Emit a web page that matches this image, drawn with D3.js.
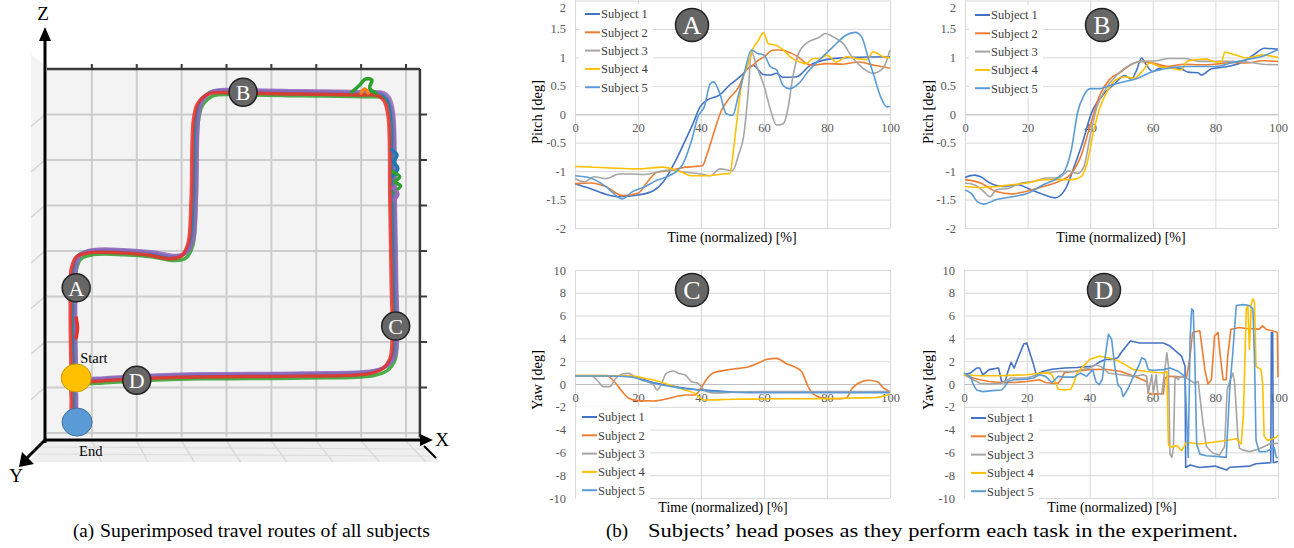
<!DOCTYPE html>
<html lang="en">
<head>
<meta charset="UTF-8">
<title>Travel routes and head poses</title>
<script src="https://d3js.org/d3.v7.min.js"></script>
<style>
  body { margin: 0; background: #fff; }
  text { font-family: "Liberation Serif", "Times New Roman", serif; }
</style>
</head>
<body>
<svg width="1294" height="548" id="grafico"></svg>
<script>
// ---------- data ----------
var subjects = ["Subject 1", "Subject 2", "Subject 3", "Subject 4", "Subject 5"];
var timeTicks = [0, 20, 40, 60, 80, 100];
var pitchTicks = [2, 1.5, 1, 0.5, 0, -0.5, -1, -1.5, -2];
var yawTicks = [10, 8, 6, 4, 2, 0, -2, -4, -6, -8, -10];

// task A pitch [time %, deg]
var pitchA1 = [[0,-1.22],[5,-1.31],[10,-1.41],[14,-1.45],[20,-1.42],[25,-1.34],[28,-1.19],[32,-0.81],[35,-0.46],[37.5,-0.16],[39.7,0.13],[42,0.25],[46,0.34],[49,0.51],[52.4,0.66],[56.6,0.86],[59.8,0.7],[62,0.69],[64,0.72],[66,0.65],[70.4,0.66],[74.6,0.86],[78.8,0.95],[84,0.99],[88,1.0],[100,1.01]];
var pitchA2 = [[0,-1.22],[5,-1.21],[10,-1.28],[15,-1.43],[20,-1.39],[23,-1.19],[26,-1.02],[30,-0.99],[35,-0.93],[38,-0.92],[40.5,-0.9],[42,-0.69],[44,-0.34],[46.5,0.07],[49,0.28],[52,0.48],[54,0.75],[56,0.84],[58,0.94],[60,1.01],[63,1.13],[65,1.13],[68.8,1.07],[70.8,1.01],[73.5,0.89],[75,0.86],[80,0.89],[85,0.88],[90,0.92],[95,0.86],[100,0.81]];
var pitchA3 = [[0,-1.13],[3,-1.19],[6,-1.1],[10,-1.13],[14,-1.05],[18,-1.05],[22,-1.06],[26,-1.02],[30,-0.98],[35,-1.02],[40,-1.05],[43,-1.08],[46,-0.96],[50,-0.99],[52,-0.7],[53.5,-0.4],[55,0.4],[56,1.1],[57.7,0.84],[60,0.5],[62,0.09],[64,-0.19],[66,-0.17],[67.7,0.13],[68.8,0.54],[71,1.07],[73.5,1.25],[77.8,1.36],[79.4,1.42],[82,1.36],[85,1.25],[88.3,0.98],[91.4,0.81],[94.6,0.72],[97.8,0.81],[100,1.13]];
var pitchA4 = [[0,-0.92],[10,-0.94],[20,-0.96],[28,-0.93],[33,-1.0],[37,-1.08],[42,-1.08],[47,-1.05],[49.2,-1.04],[50.3,-0.63],[51.3,-0.16],[52.9,0.54],[55,0.89],[56.6,1.16],[58.2,1.3],[59.8,1.43],[61.4,1.24],[64,1.21],[66.1,1.13],[68.3,1.01],[71.4,0.92],[73.5,0.89],[75.6,0.98],[77.8,0.98],[79.9,1.04],[83,0.92],[86.2,1.01],[89.4,0.98],[92.6,0.96],[94.7,1.1],[97.9,1.01],[100,0.99]];
var pitchA5 = [[0,-1.08],[5,-1.12],[10,-1.28],[15,-1.49],[18,-1.37],[22,-1.28],[26,-1.16],[30,-1.08],[34,-0.9],[37,-0.46],[39,-0.05],[41,0.13],[43,0.54],[44,0.57],[46,0.36],[48,0.01],[50,-0.02],[52,0.36],[54,0.78],[56,1.13],[58,1.07],[60,1.04],[62,0.84],[64,0.78],[66,0.51],[68,0.45],[71,0.54],[74,0.75],[78,0.98],[82,1.19],[86,1.39],[89,1.44],[91,1.36],[93,1.01],[95,0.66],[97,0.31],[99,0.13],[100,0.14]];

// task B pitch
var pitchB1 = [[0,-1.11],[3,-1.07],[5,-1.1],[8,-1.21],[12,-1.27],[17,-1.24],[20,-1.3],[24,-1.39],[28.7,-1.47],[32,-1.32],[35,-0.9],[37.2,-0.56],[40.4,0.02],[44.7,0.38],[47.3,0.51],[51,0.68],[53.2,0.62],[54.8,0.77],[56.4,0.99],[58,0.86],[60,0.75],[61.7,0.8],[65,0.83],[69,0.8],[71.3,0.74],[74.5,0.73],[75.5,0.69],[78.7,0.8],[83,0.83],[88.3,0.91],[92.6,1.06],[95.7,1.16],[100,1.14]];
var pitchB2 = [[0,-1.15],[5,-1.21],[10,-1.36],[15,-1.4],[20,-1.35],[25,-1.27],[30,-1.18],[34,-1.04],[37,-0.74],[40,-0.2],[43,0.33],[46,0.6],[50,0.75],[53,0.87],[56,0.93],[60,0.9],[65,0.84],[70,0.88],[75,0.87],[80,0.88],[85,0.91],[90,0.9],[95,0.94],[100,0.93]];
var pitchB3 = [[0,-1.21],[3,-1.24],[6,-1.36],[8,-1.45],[10,-1.33],[14,-1.3],[18,-1.21],[22,-1.18],[26,-1.12],[30,-1.12],[33,-1.0],[36,-1.04],[38,-0.92],[40,-0.38],[42,0.1],[45,0.45],[48,0.66],[51,0.81],[54,0.9],[57,0.93],[61,0.94],[65,0.98],[70,0.98],[75,0.93],[80,0.93],[85,0.93],[90,0.92],[95,0.88],[100,0.87]];
var pitchB4 = [[0,-1.27],[5,-1.29],[10,-1.27],[15,-1.24],[20,-1.21],[25,-1.15],[30,-1.15],[34,-1.15],[37,-1.1],[39,-0.86],[41,-0.32],[43,0.1],[45,0.36],[48,0.6],[51,0.66],[54,0.63],[57,0.78],[59,0.9],[62,0.84],[66,0.81],[69,0.78],[71,0.93],[74,0.96],[77,0.97],[80,0.92],[82,0.93],[83,1.09],[86,1.05],[90,0.99],[95,1.04],[100,1.0]];
var pitchB5 = [[0,-1.33],[2,-1.39],[4,-1.54],[6,-1.58],[10,-1.5],[15,-1.45],[20,-1.39],[25,-1.24],[30,-1.1],[32,-0.98],[34,-0.62],[36,0.04],[38,0.33],[40,0.45],[43,0.45],[46,0.5],[50,0.56],[55,0.63],[60,0.75],[65,0.81],[70,0.84],[75,0.84],[80,0.84],[85,0.9],[90,0.96],[95,1.02],[100,1.14]];

// task C yaw
var yawC1 = [[0,0.72],[10,0.72],[18,0.66],[22,0.36],[26,0.07],[30,-0.13],[35,-0.37],[40,-0.51],[45,-0.6],[50,-0.7],[55,-0.74],[100,-0.74]];
var yawC2 = [[0,0.75],[10,0.75],[12,0.35],[15,-0.67],[17,-1.25],[20,-1.46],[25,-1.49],[30,-1.25],[35,-0.96],[38,-0.96],[40,-0.37],[42,0.5],[44,0.99],[48,1.22],[52,1.37],[55,1.5],[58,1.82],[61,2.17],[64,2.25],[67,1.8],[70,1.46],[72,1.08],[74,-0.23],[76,-0.96],[79,-1.25],[83,-1.3],[86,-1.25],[88,-0.37],[90,0.07],[93,0.33],[96,0.2],[98,-0.37],[100,-0.67]];
var yawC3 = [[0,0.72],[5,0.72],[7,0.35],[9,-0.23],[11,-0.23],[13,0.5],[15,0.87],[17,0.93],[19,0.64],[21,0.35],[23,0.2],[25,-0.09],[26,-0.53],[27,-0.23],[29,0.93],[31,1.14],[33,0.93],[35,0.79],[37,0.2],[39,0.07],[41,-0.53],[43,-0.76],[45,-0.8],[50,-0.72],[60,-0.67],[100,-0.67]];
var yawC4 = [[0,0.72],[10,0.72],[18,0.7],[22,0.5],[25,0.35],[30,-0.09],[35,-0.53],[38,-0.8],[41,-1.4],[50,-1.34],[60,-1.32],[70,-1.3],[80,-1.28],[90,-1.22],[95,-1.2],[100,-0.9]];
var yawC5 = [[0,0.7],[10,0.7],[18,0.62],[22,0.3],[26,0.0],[30,-0.2],[35,-0.42],[40,-0.55],[45,-0.66],[50,-0.72],[55,-0.75],[100,-0.75]];

// task D yaw
var yawD1 = [[0,0.81],[2,0.96],[4,1.4],[5,1.4],[6,0.8],[8,1.26],[11,1.4],[12,0.2],[13,0.1],[14,1.1],[15,1.9],[16,1.4],[17,2.15],[19,3.5],[20,3.6],[21,2.7],[22,1.85],[23,0.8],[25,1.1],[28,1.3],[32,1.4],[36,1.45],[38,1.5],[41,1.55],[43,1.9],[45,2.15],[47,2.15],[49,2.3],[50,2.74],[53,3.78],[56,3.6],[63.5,3.6],[65.6,3.33],[69.3,2.44],[70.4,1.55],[70.6,-7.33],[72,-7.1],[75,-7.33],[80,-7.2],[83.6,-7.55],[84.7,-7.3],[91,-7.2],[93,-7.0],[97.7,-6.9],[97.9,4.5],[98.3,4.5],[98.5,-6.9],[100,-6.8]];
var yawD2 = [[0,0.81],[3,0.52],[5,0.37],[8,0.22],[12,0.13],[16,0.13],[20,0.22],[24,0.37],[26,0.13],[28,0.07],[30,0.07],[31,0.43],[32,1.0],[35,1.1],[40,1.26],[45,1.3],[50,1.1],[55,0.6],[58.2,0.22],[58.7,-0.81],[60.3,-0.87],[63.5,-0.87],[64,0.52],[65.6,0.67],[70.9,0.6],[72,2.44],[72.8,4.52],[75.1,4.67],[75.6,3.63],[76.7,1.26],[77.7,0.0],[78.8,0.37],[79.8,4.22],[80.9,4.52],[81.4,3.04],[82.5,0.37],[83.5,0.37],[84,2.44],[85,4.81],[87.7,4.96],[89.8,4.87],[94,4.81],[95.1,5.1],[96.2,4.81],[99.4,4.57],[99.8,4.5],[100,0.6]];
var yawD3 = [[0,0.81],[3,0.37],[5,0.07],[8,-0.01],[12,0.07],[15,0.52],[20,0.52],[25,0.96],[30,1.1],[35,1.1],[40,1.4],[42,1.7],[44,1.48],[46,0.96],[50,0.81],[54,0.67],[57.2,0.81],[58.2,0.67],[58.7,-0.81],[59.8,0.81],[60.3,-0.81],[61.2,0.81],[61.7,-0.81],[63,-0.87],[64.6,2.74],[65.1,1.55],[65.6,-6.15],[66.2,-6.44],[66.7,-5.55],[67.2,0.67],[68.2,0.37],[68.8,0.67],[70.9,0.52],[73.5,0.07],[74.6,0.22],[75.1,-1.05],[76.1,-3.41],[77.2,-5.48],[79.3,-6.07],[81.4,-6.22],[83,-5.48],[83.8,-0.52],[84.6,0.22],[85.6,0.96],[86.2,0.07],[87.2,-4.59],[87.7,-5.63],[88.8,-5.78],[90.9,-5.93],[93,-5.78],[95.1,-5.55],[97.3,-5.26],[100,-5.2]];
var yawD4 = [[0,0.81],[5,0.73],[10,0.73],[15,0.76],[20,0.81],[25,0.96],[27,1.0],[28,0.81],[29,0.22],[30,-0.46],[32,-0.52],[34,-0.46],[35,0.07],[36,0.96],[38,1.55],[40,2.15],[43,2.44],[45,2.35],[48,2.15],[50,1.9],[54,1.26],[58.2,1.1],[63.5,0.96],[64.6,1.1],[65.1,-5.26],[65.6,-5.55],[67.8,-5.4],[69.3,-5.85],[70.9,-5.11],[75.1,-5.26],[79.3,-5.11],[83.5,-4.96],[86.7,-4.81],[88.3,-5.26],[89,-2.6],[89.9,6.59],[90.4,6.89],[90.9,3.04],[91.5,7.04],[92,7.48],[92.5,7.19],[93,1.55],[94.6,1.26],[95.1,0.07],[95.6,-4.59],[96.7,-4.96],[98.3,-4.81],[99.4,-4.67],[100,-4.5]];
var yawD5 = [[0,0.96],[2,0.67],[3,-0.07],[4,-0.52],[6,-0.67],[9,-0.58],[12,-0.52],[13,-0.22],[14,0.22],[16,0.37],[20,0.43],[22,0.52],[24,0.81],[26,0.67],[28,0.13],[30,0.67],[32,0.6],[35,0.6],[37,0.96],[39,0.67],[41,1.26],[42,0.22],[43,-0.07],[44,0.37],[45,2.44],[46,4.37],[47,3.93],[48,1.56],[49,-0.07],[50,-0.37],[50.7,-1.11],[52.3,-0.37],[54,0.67],[55.6,1.56],[56.6,2.3],[57.7,2.15],[58.7,1.26],[60.3,1.2],[63.5,1.26],[65.6,1.41],[68.2,1.11],[70.4,0.67],[71.4,-6.44],[72,3.93],[72.5,6.59],[73,6.44],[73.5,2.44],[74.1,-5.26],[75.1,-6.15],[77.2,-6.3],[81.4,-6.37],[83.5,-6.44],[84.6,-0.52],[85.6,2.74],[86.7,6.89],[88.8,6.96],[90.9,6.89],[92,6.59],[92.5,2.44],[93,-4.96],[94,-5.93],[96.2,-5.93],[97.8,-5.7],[98.8,-5.6],[99.4,-6.4],[100,-6.5]];

// travel route on the X-Z grid (grid units), shared by all subjects
var route = [[0.58,1.16],[0.56,2.26],[0.56,3.14],[0.58,3.63],[0.69,3.89],[0.96,3.98],[1.63,3.98],[2.29,3.93],[2.78,3.85],[3.03,3.91],[3.18,4.18],[3.25,5.12],[3.30,6.88],[3.39,7.25],[3.63,7.47],[4.30,7.49],[5.63,7.47],[6.97,7.45],[7.42,7.43],[7.55,7.32],[7.64,6.99],[7.68,5.12],[7.71,3.36],[7.73,2.04],[7.68,1.65],[7.51,1.43],[7.19,1.32],[5.63,1.27],[3.41,1.25],[2.07,1.21],[1.18,1.16],[0.73,1.14],[0.6,1.15],[0.58,0.7],[0.58,0.3]];
var routeColors = ["#ff7f0e", "#2ca02c", "#1f77b4", "#9467bd", "#e5302e"];
var routeShift = [[0.0, 0.0], [0.07, -0.06], [0.03, 0.03], [0.08, 0.05], [-0.04, -0.02]];
// small detours of single subjects
var detours = [
  { c: 1, pts: [[6.79,7.49],[6.97,7.65],[7.10,7.78],[7.24,7.76],[7.19,7.58],[7.33,7.47]] },
  { c: 0, pts: [[7.0,7.47],[7.08,7.56],[7.16,7.47]] },
  { c: 2, pts: [[7.68,6.22],[7.80,6.11],[7.73,5.96],[7.82,5.82],[7.71,5.65]] },
  { c: 1, pts: [[7.71,5.74],[7.86,5.63],[7.76,5.52],[7.88,5.43],[7.73,5.30]] },
  { c: 3, pts: [[7.71,5.38],[7.82,5.25],[7.73,5.12]] },
  { c: 4, pts: [[0.65,2.53],[0.68,2.31],[0.65,2.09]] }
];
var waypoints = [["A", 0.65, 3.19], ["B", 4.37, 7.49], ["C", 7.77, 2.35], ["D", 2.0, 1.16]];
var startPt = [0.65, 1.21], endPt = [0.67, 0.24];

var svg = d3.select("svg");
var colors = ["#4472c4", "#ed7d31", "#a5a5a5", "#ffc000", "#5b9bd5"];

svg.append("rect").attr("width", 1294).attr("height", 548).attr("fill", "#fff");

// ---------- (a) 3D route view ----------
var gx = d3.scaleLinear().domain([0, 8]).range([47, 406]);
var gy = d3.scaleLinear().domain([0, 8]).range([433, 69]);
var g3 = svg.append("g");

// left wall and floor (perspective)
g3.append("polygon").attr("points", "31,54 45,66 45,438 31,452").attr("fill", "#f4f4f4");
g3.append("polygon").attr("points", "45,440 424,440 440,462 30,462").attr("fill", "#efefef");
g3.selectAll(".wall").data(d3.range(1, 8)).enter().append("line")
  .attr("x1", 31).attr("x2", 45)
  .attr("y1", function (d) { return gy(d) + 12; }).attr("y2", function (d) { return gy(d); })
  .attr("stroke", "#d4d4d4").attr("stroke-width", 1.5);
g3.selectAll(".floor").data(d3.range(1, 9)).enter().append("line")
  .attr("x1", function (d) { return gx(d); }).attr("x2", function (d) { return gx(d) + 8 + d * 1.5; })
  .attr("y1", 441).attr("y2", 462)
  .attr("stroke", "#dadada").attr("stroke-width", 1.5);
[447, 454].forEach(function (yy) {
  g3.append("line").attr("x1", 38).attr("x2", 430).attr("y1", yy).attr("y2", yy + 2)
    .attr("stroke", "#dcdcdc").attr("stroke-width", 1.2);
});

// back wall
g3.append("rect").attr("x", gx(0)).attr("y", gy(8))
  .attr("width", gx(8.31) - gx(0)).attr("height", gy(-0.1) - gy(8))
  .attr("fill", "#f3f3f3");
g3.selectAll(".gv").data(d3.range(1, 9)).enter().append("line")
  .attr("x1", function (d) { return gx(d); }).attr("x2", function (d) { return gx(d); })
  .attr("y1", gy(8)).attr("y2", gy(-0.1))
  .attr("stroke", "#cdcdcd").attr("stroke-width", 2);
g3.selectAll(".gh").data(d3.range(0, 8)).enter().append("line")
  .attr("x1", gx(0)).attr("x2", gx(8.31))
  .attr("y1", function (d) { return gy(d); }).attr("y2", function (d) { return gy(d); })
  .attr("stroke", "#cdcdcd").attr("stroke-width", 2);

// frame with ticks
g3.append("line").attr("x1", gx(0)).attr("x2", gx(8.31)).attr("y1", gy(8)).attr("y2", gy(8))
  .attr("stroke", "#3a3a3a").attr("stroke-width", 2.5);
g3.append("line").attr("x1", gx(8.31)).attr("x2", gx(8.31)).attr("y1", gy(8)).attr("y2", gy(-0.1))
  .attr("stroke", "#3a3a3a").attr("stroke-width", 2.5);
g3.selectAll(".tt").data(d3.range(1, 9)).enter().append("line")
  .attr("x1", function (d) { return gx(d); }).attr("x2", function (d) { return gx(d); })
  .attr("y1", gy(8)).attr("y2", gy(8) - 5)
  .attr("stroke", "#3a3a3a").attr("stroke-width", 2);
g3.selectAll(".rt").data(d3.range(1, 8)).enter().append("line")
  .attr("x1", gx(8.31)).attr("x2", gx(8.31) + 7)
  .attr("y1", function (d) { return gy(d); }).attr("y2", function (d) { return gy(d); })
  .attr("stroke", "#3a3a3a").attr("stroke-width", 2);

// routes
var rline = d3.line()
  .x(function (d) { return gx(d[0]); })
  .y(function (d) { return gy(d[1]); })
  .curve(d3.curveCatmullRom.alpha(0.5));
routeColors.forEach(function (c, i) {
  var s = routeShift[i];
  g3.append("path")
    .datum(route.map(function (p) { return [p[0] + s[0], p[1] + s[1]]; }))
    .attr("d", rline).attr("fill", "none")
    .attr("stroke", c).attr("stroke-width", 3.5).attr("stroke-opacity", 0.85)
    .attr("stroke-linejoin", "round").attr("stroke-linecap", "round");
});
detours.forEach(function (dt) {
  g3.append("path").datum(dt.pts).attr("d", rline).attr("fill", "none")
    .attr("stroke", routeColors[dt.c]).attr("stroke-width", 3.5)
    .attr("stroke-linecap", "round").attr("stroke-linejoin", "round");
});

// axes Z, X, Y
g3.append("line").attr("x1", 45).attr("x2", 45).attr("y1", 443).attr("y2", 38)
  .attr("stroke", "#000").attr("stroke-width", 3);
g3.append("polygon").attr("points", "45,27 39,41 51,41").attr("fill", "#000");
g3.append("line").attr("x1", 44).attr("x2", 423).attr("y1", 440).attr("y2", 440)
  .attr("stroke", "#000").attr("stroke-width", 3);
g3.append("polygon").attr("points", "433,440 420,434 420,446").attr("fill", "#000");
g3.append("line").attr("x1", 424).attr("x2", 436).attr("y1", 446).attr("y2", 458)
  .attr("stroke", "#000").attr("stroke-width", 2);
g3.append("line").attr("x1", 45).attr("x2", 26).attr("y1", 440).attr("y2", 459)
  .attr("stroke", "#000").attr("stroke-width", 3);
g3.append("polygon").attr("points", "19,467 22,452 34,464").attr("fill", "#000");
g3.append("text").attr("x", 43).attr("y", 20).attr("text-anchor", "middle")
  .attr("font-size", 19).text("Z");
g3.append("text").attr("x", 442).attr("y", 446).attr("text-anchor", "middle")
  .attr("font-size", 19).text("X");
g3.append("text").attr("x", 16).attr("y", 482).attr("text-anchor", "middle")
  .attr("font-size", 19).text("Y");

// start / end
g3.append("ellipse").attr("cx", gx(startPt[0])).attr("cy", gy(startPt[1]))
  .attr("rx", 15).attr("ry", 14).attr("fill", "#ffc000").attr("stroke", "#c99a00").attr("stroke-width", 1);
g3.append("ellipse").attr("cx", gx(endPt[0])).attr("cy", gy(endPt[1]))
  .attr("rx", 15).attr("ry", 14).attr("fill", "#5b9bd5").attr("stroke", "#41719c").attr("stroke-width", 1);
g3.append("text").attr("x", gx(startPt[0]) + 4).attr("y", gy(startPt[1]) - 15)
  .attr("font-size", 14.5).text("Start");
g3.append("text").attr("x", gx(endPt[0]) + 2).attr("y", gy(endPt[1]) + 34)
  .attr("font-size", 14.5).text("End");

// task waypoints
var wp = g3.selectAll(".wp").data(waypoints).enter().append("g")
  .attr("transform", function (d) { return "translate(" + gx(d[1]) + "," + gy(d[2]) + ")"; });
wp.append("circle").attr("r", 14).attr("fill", "#666").attr("stroke", "#222").attr("stroke-width", 1.5);
wp.append("text").attr("text-anchor", "middle").attr("dy", "0.36em")
  .attr("font-size", 22).attr("fill", "#fff").text(function (d) { return d[0]; });

// ---------- (b) head pose panels ----------
function drawPanel(p) {
  var x = d3.scaleLinear().domain([0, 100]).range([p.left, p.right]);
  var y = d3.scaleLinear().domain(p.domain).range([p.bottom, p.top]);
  var g = svg.append("g");

  // horizontal grid + y labels
  var yAxis = d3.axisLeft(y).tickValues(p.ticks)
    .tickSize(-(p.right - p.left)).tickPadding(9)
    .tickFormat(function (d) { return String(d); });
  var ya = g.append("g").attr("transform", "translate(" + p.left + ",0)").call(yAxis);
  ya.select(".domain").remove();
  ya.selectAll("line").attr("stroke", "#d9d9d9");
  ya.selectAll("text").attr("font-size", 12.5).attr("fill", "#595959")
    .style("font-family", "Liberation Serif, serif")
    .attr("dy", function (d) { return y(d) < 6 ? "0.9em" : "0.32em"; });

  // vertical grid
  var xGrid = d3.axisBottom(x).tickValues(timeTicks).tickSize(-(p.bottom - p.top)).tickFormat("");
  var xg = g.append("g").attr("transform", "translate(0," + p.bottom + ")").call(xGrid);
  xg.select(".domain").remove();
  xg.selectAll("line").attr("stroke", "#d9d9d9");

  // zero axis with labels
  var xAxis = d3.axisBottom(x).tickValues(timeTicks).tickSize(0).tickPadding(9);
  var xa = g.append("g").attr("transform", "translate(0," + y(0) + ")").call(xAxis);
  xa.select(".domain").attr("stroke", "#bfbfbf");
  xa.selectAll("text").attr("font-size", 12.5).attr("fill", "#595959")
    .style("font-family", "Liberation Serif, serif");

  // series
  var line = d3.line()
    .x(function (d) { return x(d[0]); })
    .y(function (d) { return y(d[1]); })
    .curve(p.curve);
  p.series.forEach(function (s, i) {
    g.append("path").datum(s).attr("d", line).attr("fill", "none")
      .attr("stroke", colors[i]).attr("stroke-width", 1.6).attr("stroke-linejoin", "round");
  });

  // legend
  g.append("rect").attr("x", p.legend.x - 6).attr("y", p.legend.y - 10)
    .attr("width", 74).attr("height", 92).attr("fill", "#fff");
  var lg = g.selectAll(".lg").data(subjects).enter().append("g")
    .attr("transform", function (d, i) { return "translate(" + p.legend.x + "," + (p.legend.y + i * 18.3) + ")"; });
  lg.append("line").attr("x1", 0).attr("x2", 15).attr("stroke-width", 2)
    .attr("stroke", function (d, i) { return colors[i]; });
  lg.append("text").attr("x", 16).attr("dy", "0.35em").attr("font-size", 12.5)
    .attr("fill", "#404040").text(function (d) { return d; });

  // task badge
  g.append("circle").attr("cx", p.badge[0]).attr("cy", p.badge[1]).attr("r", 16.5)
    .attr("fill", "#666").attr("stroke", "#222").attr("stroke-width", 1.5);
  g.append("text").attr("x", p.badge[0]).attr("y", p.badge[1]).attr("dy", "0.36em")
    .attr("text-anchor", "middle").attr("font-size", 26).attr("fill", "#fff").text(p.letter);

  // titles
  g.append("text").attr("x", p.xTitle[0]).attr("y", p.xTitle[1]).attr("text-anchor", "middle")
    .attr("font-size", 14).text("Time (normalized) [%]");
  g.append("text").attr("transform", "translate(" + p.yTitle[0] + "," + p.yTitle[1] + ") rotate(-90)")
    .attr("text-anchor", "middle").attr("dy", "0.35em").attr("font-size", 14.5).text(p.yLabel);
}

drawPanel({ left: 575, right: 890, top: 0.5, bottom: 228, domain: [-2, 2], ticks: pitchTicks,
  series: [pitchA1, pitchA2, pitchA3, pitchA4, pitchA5], curve: d3.curveMonotoneX,
  legend: { x: 585, y: 14 }, badge: [692, 25], letter: "A",
  xTitle: [732, 242], yTitle: [537, 112], yLabel: "Pitch [deg]" });
drawPanel({ left: 965, right: 1278, top: 0.5, bottom: 228, domain: [-2, 2], ticks: pitchTicks,
  series: [pitchB1, pitchB2, pitchB3, pitchB4, pitchB5], curve: d3.curveMonotoneX,
  legend: { x: 975, y: 15 }, badge: [1102, 25], letter: "B",
  xTitle: [1121, 242], yTitle: [928, 112], yLabel: "Pitch [deg]" });
drawPanel({ left: 575, right: 890, top: 270, bottom: 498, domain: [-10, 10], ticks: yawTicks,
  series: [yawC1, yawC2, yawC3, yawC4, yawC5], curve: d3.curveMonotoneX,
  legend: { x: 582, y: 417 }, badge: [692, 290], letter: "C",
  xTitle: [723, 512], yTitle: [537, 380], yLabel: "Yaw [deg]" });
drawPanel({ left: 964, right: 1278, top: 270, bottom: 498, domain: [-10, 10], ticks: yawTicks,
  series: [yawD1, yawD2, yawD3, yawD4, yawD5], curve: d3.curveLinear,
  legend: { x: 971, y: 418 }, badge: [1104, 290], letter: "D",
  xTitle: [1112, 512], yTitle: [928, 380], yLabel: "Yaw [deg]" });

// ---------- captions ----------
svg.append("text").attr("x", 73).attr("y", 537).attr("font-size", 19).text("(a)");
svg.append("text").attr("x", 100).attr("y", 537).attr("font-size", 19)
  .attr("textLength", 330).attr("lengthAdjust", "spacingAndGlyphs")
  .text("Superimposed travel routes of all subjects");
svg.append("text").attr("x", 606).attr("y", 537).attr("font-size", 19).text("(b)");
svg.append("text").attr("x", 648).attr("y", 537).attr("font-size", 19)
  .attr("textLength", 590).attr("lengthAdjust", "spacingAndGlyphs")
  .text("Subjects\u2019 head poses as they perform each task in the experiment.");
</script>
</body>
</html>
